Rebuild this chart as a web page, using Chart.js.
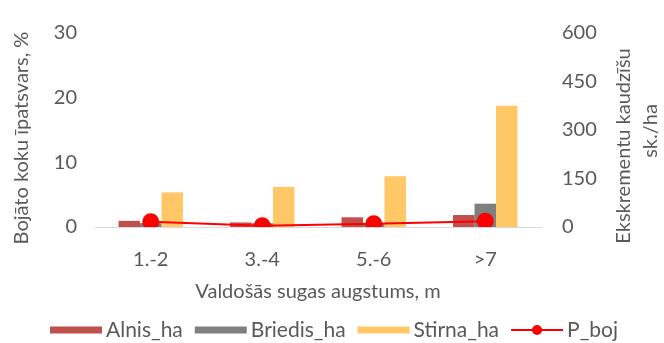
<!DOCTYPE html>
<html>
<head>
<meta charset="utf-8">
<script src="https://cdn.jsdelivr.net/npm/chart.js@4.4.1/dist/chart.umd.min.js"></script>
<style>
html,body{margin:0;padding:0;background:#fff;}
#wrap{width:664px;height:343px;position:relative;}
</style>
</head>
<body>
<div id="wrap"><canvas id="c" width="664" height="343"></canvas></div>
<script>
// ---- data ----
const categories = ['1.-2', '3.-4', '5.-6', '>7'];
const alnisHa   = [19, 14, 30, 37];
const briedisHa = [12, 12, 10, 72];
const stirnaHa  = [107, 124, 157, 375];
const pBoj      = [0.8, 0.2, 0.5, 0.9];
const leftTicks  = [0, 10, 20, 30];
const rightTicks = [0, 150, 300, 450, 600];

const FONT = 'Lato';
const GREY = '#595959';

const titlesAndLegend = {
  id: 'titlesAndLegend',
  afterDraw(chart) {
    const ctx = chart.ctx;
    const ca = chart.chartArea;
    ctx.save();
    ctx.fillStyle = GREY;
    ctx.textBaseline = 'middle';
    ctx.textAlign = 'center';
    // left title
    ctx.font = '20px ' + FONT;
    ctx.save();
    ctx.translate(22, 138);
    ctx.rotate(-Math.PI / 2);
    ctx.fillText('Bojāto koku īpatsvars, %', 0, 0);
    ctx.restore();
    // right title (two lines, reading bottom to top)
    ctx.save();
    ctx.translate(624, 146);
    ctx.rotate(-Math.PI / 2);
    ctx.fillText('Ekskrementu kaudzīšu', 0, 0);
    ctx.restore();
    ctx.save();
    ctx.translate(651, 131);
    ctx.rotate(-Math.PI / 2);
    ctx.fillText('sk./ha', 0, 0);
    ctx.restore();
    // x title
    ctx.fillText('Valdošās sugas augstums, m', (ca.left + ca.right) / 2, 292);

    // legend
    ctx.font = '21px ' + FONT;
    const ds = chart.data.datasets;
    const order = [1, 2, 3, 0];
    const sw = 52, gapT = 4, gapI = 12;
    let total = 0;
    const widths = order.map(i => ctx.measureText(ds[i].label).width);
    widths.forEach(w => total += sw + gapT + w);
    total += gapI * (order.length - 1);
    let x = 334 - total / 2;
    const y = 330;
    ctx.textAlign = 'left';
    order.forEach((i, k) => {
      const d = ds[i];
      if (d.type === 'line') {
        ctx.strokeStyle = d.borderColor;
        ctx.lineWidth = 2;
        ctx.beginPath();
        ctx.moveTo(x, y); ctx.lineTo(x + sw, y); ctx.stroke();
        ctx.fillStyle = d.pointBackgroundColor;
        ctx.beginPath();
        ctx.arc(x + sw / 2, y, 5, 0, Math.PI * 2); ctx.fill();
      } else {
        ctx.fillStyle = d.backgroundColor;
        ctx.fillRect(x, y - 3.5, sw, 7);
      }
      ctx.fillStyle = GREY;
      ctx.fillText(d.label, x + sw + gapT, y);
      x += sw + gapT + widths[k] + gapI;
    });
    ctx.restore();
  }
};

new Chart(document.getElementById('c'), {
  type: 'bar',
  data: {
    labels: categories,
    datasets: [
      {
        type: 'line', label: 'P_boj', data: pBoj, yAxisID: 'yP', order: 0,
        borderColor: '#FF0000', borderWidth: 2,
        pointBackgroundColor: '#FF0000', pointBorderColor: '#FF0000',
        pointRadius: 8.5, pointBorderWidth: 0, tension: 0
      },
      { label: 'Alnis_ha', data: alnisHa, yAxisID: 'yE', order: 1, backgroundColor: '#C0504D' },
      { label: 'Briedis_ha', data: briedisHa, yAxisID: 'yE', order: 1, backgroundColor: '#7F7F7F' },
      { label: 'Stirna_ha', data: stirnaHa, yAxisID: 'yE', order: 1, backgroundColor: '#FFC766' }
    ]
  },
  options: {
    responsive: false,
    animation: false,
    devicePixelRatio: 1,
    categoryPercentage: 0.578,
    barPercentage: 1.0,
    layout: { padding: { top: 24, left: 0, right: 0, bottom: 0 } },
    plugins: { legend: { display: false }, tooltip: { enabled: false } },
    scales: {
      x: {
        grid: { display: false, drawTicks: false },
        border: { display: true, color: '#D9D9D9', width: 1 },
        ticks: { color: GREY, font: { family: FONT, size: 20 }, padding: 21, maxRotation: 0 },
        afterFit(s) { s.height = 116; }
      },
      yP: {
        position: 'left', min: 0, max: 30,
        afterBuildTicks(s) { s.ticks = leftTicks.map(v => ({ value: v })); },
        grid: { display: false, drawTicks: false },
        border: { display: false },
        ticks: { color: GREY, font: { family: FONT, size: 20 }, padding: 18 },
        afterFit(s) { s.width = 95; }
      },
      yE: {
        position: 'right', min: 0, max: 600,
        afterBuildTicks(s) { s.ticks = rightTicks.map(v => ({ value: v })); },
        grid: { display: false, drawTicks: false },
        border: { display: false },
        ticks: { color: GREY, font: { family: FONT, size: 20 }, padding: 21 },
        afterFit(s) { s.width = 123; }
      }
    }
  },
  plugins: [titlesAndLegend]
});
</script>
</body>
</html>
